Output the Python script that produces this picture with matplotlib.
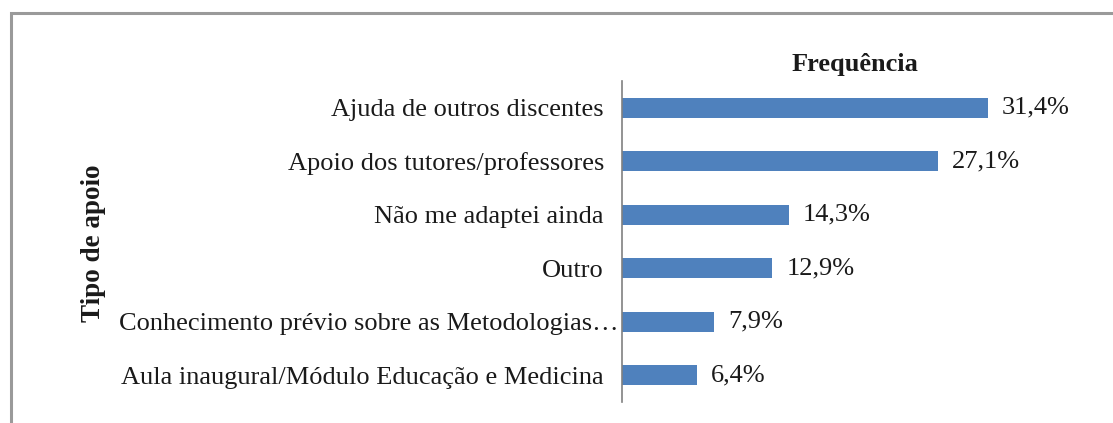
import matplotlib
matplotlib.use("Agg")
import matplotlib.pyplot as plt
from matplotlib.patches import Rectangle
from matplotlib.transforms import ScaledTranslation

categories = [
    "Ajuda de outros discentes",
    "Apoio dos tutores/professores",
    "Não me adaptei ainda",
    "Outro",
    "Conhecimento prévio sobre as Metodologias…",
    "Aula inaugural/Módulo Educação e Medicina",
]
values = [31.4, 27.1, 14.3, 12.9, 7.9, 6.4]
value_labels = ["31,4%", "27,1%", "14,3%", "12,9%", "7,9%", "6,4%"]

W, H = 1113, 423
fig = plt.figure(figsize=(W / 100, H / 100), dpi=100)
plt.rcParams['font.family'] = ['Liberation Serif', 'DejaVu Serif']

# outer frame
fig.patches.append(Rectangle((11 / W, -0.1), 1.2, (H - 13) / H + 0.1,
                             transform=fig.transFigure, fill=False,
                             edgecolor="#9a9a9a", linewidth=2.2))

ax_left, ax_right = 622, 1100
ax_top, ax_bottom = 81, 402
ax = fig.add_axes([ax_left / W, 1 - ax_bottom / H, (ax_right - ax_left) / W, (ax_bottom - ax_top) / H])

y = list(range(len(categories)))
ax.barh(y, values, height=0.375, color="#4f81bd")
ax.set_ylim(len(categories) - 0.5, -0.5)
px_per_pct = (988 - 622) / 31.4
ax.set_xlim(0, (ax_right - ax_left) / px_per_pct)

for yi, v, lab in zip(y, values, value_labels):
    ax.annotate(lab, (v, yi), xytext=(10, 0), textcoords="offset points",
                va="center", ha="left", fontsize=19, color="#1a1a1a")

ax.set_yticks(y)
ax.set_yticklabels(categories, fontsize=19, color="#1a1a1a")
ax.tick_params(axis="y", length=0, pad=13)
ax.set_xticks([])
for s in ["top", "right", "bottom"]:
    ax.spines[s].set_visible(False)
ax.spines["left"].set_color("#808080")
ax.spines["left"].set_linewidth(1.2)

# the truncated label runs up to the axis line in the reference
lbl = ax.get_yticklabels()[4]
lbl.set_transform(lbl.get_transform() + ScaledTranslation(15 / 100, 0, fig.dpi_scale_trans))

fig.text(855 / W, 1 - 65 / H, "Frequência", ha="center", va="center",
         fontsize=19, fontweight="bold", color="#1a1a1a")
fig.text(93 / W, 1 - 243 / H, "Tipo de apoio", ha="center", va="center",
         rotation=90, fontsize=19.5, fontweight="bold", color="#1a1a1a")

fig.savefig("out.png", dpi=100, facecolor="white")
